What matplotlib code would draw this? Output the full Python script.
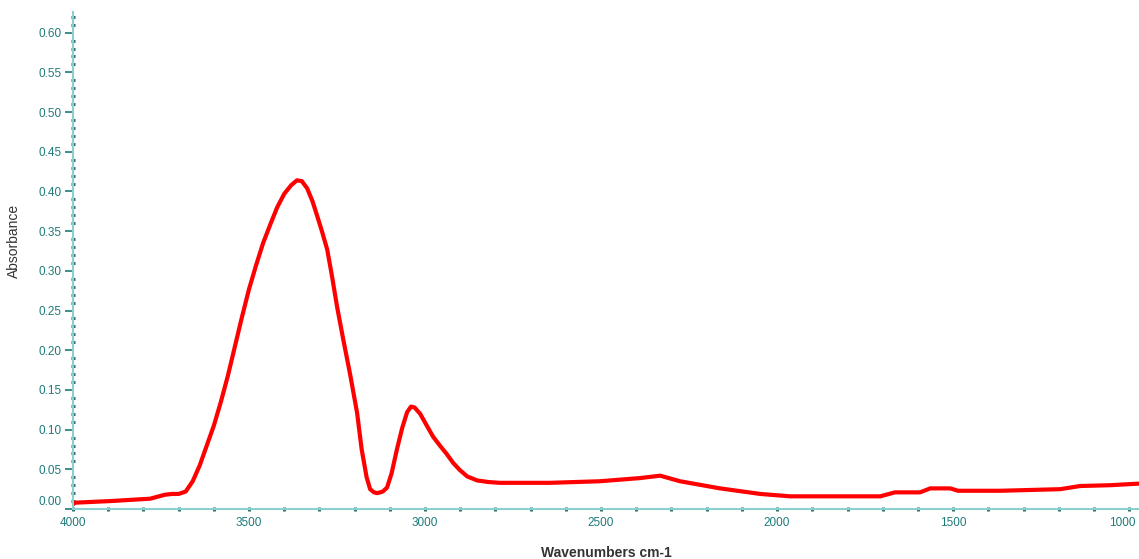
import numpy as np
import matplotlib.pyplot as plt
from matplotlib.ticker import MultipleLocator
from matplotlib.transforms import ScaledTranslation

# FTIR absorbance spectrum
wavenumber = [4000, 3994, 3895, 3781, 3739, 3719, 3700, 3680, 3660, 3640, 3620,
              3600, 3580, 3560, 3540, 3520, 3500, 3480, 3460, 3440, 3420, 3400,
              3380, 3364, 3350, 3335, 3320, 3307, 3293, 3278, 3265, 3250, 3233,
              3213, 3193, 3180, 3166, 3156, 3145, 3136, 3120, 3108, 3095, 3080,
              3065, 3051, 3040, 3030, 3014, 2995, 2977, 2958, 2938, 2920, 2901,
              2880, 2852, 2820, 2787, 2645, 2503, 2389, 2332, 2276, 2162, 2048,
              1963, 1707, 1665, 1594, 1565, 1508, 1486, 1366, 1196, 1139, 1054, 972]
absorbance = [0.006, 0.008, 0.010, 0.013, 0.018, 0.019, 0.019, 0.022, 0.035, 0.055, 0.080,
              0.105, 0.135, 0.168, 0.205, 0.242, 0.277, 0.307, 0.335, 0.358, 0.380, 0.397,
              0.408, 0.414, 0.413, 0.404, 0.388, 0.370, 0.350, 0.327, 0.295, 0.255, 0.215,
              0.170, 0.121, 0.075, 0.040, 0.025, 0.021, 0.020, 0.022, 0.027, 0.045, 0.075,
              0.102, 0.122, 0.129, 0.128, 0.120, 0.105, 0.091, 0.080, 0.069, 0.058, 0.049,
              0.041, 0.036, 0.034, 0.033, 0.033, 0.035, 0.039, 0.042, 0.035, 0.026, 0.019,
              0.016, 0.016, 0.021, 0.021, 0.026, 0.026, 0.023, 0.023, 0.025, 0.029, 0.030, 0.032]

y_ticks = [0.00, 0.05, 0.10, 0.15, 0.20, 0.25, 0.30, 0.35, 0.40, 0.45, 0.50, 0.55, 0.60]
x_ticks = [4000, 3500, 3000, 2500, 2000, 1500, 1000]

teal = '#1f7a7a'
spine_col = '#8ccfcf'

plt.rcParams['font.family'] = ['Liberation Sans Narrow', 'Liberation Sans', 'DejaVu Sans']

fig = plt.figure(figsize=(11.39, 5.59), dpi=100)
ax = fig.add_axes([0.0641, 0.0894, 0.9359, 0.8891])

ax.plot(wavenumber, absorbance, color='#ff0000', lw=3, solid_capstyle='round',
        solid_joinstyle='round')

ax.set_xlim(4000, 972)
ax.set_ylim(0, 0.626)

for s in ['top', 'right']:
    ax.spines[s].set_visible(False)
for s in ['left', 'bottom']:
    ax.spines[s].set_color(spine_col)
    ax.spines[s].set_linewidth(1.5)

ax.set_xticks(x_ticks)
ax.set_xticklabels([str(t) for t in x_ticks])
ax.xaxis.set_minor_locator(MultipleLocator(100))
ax.set_yticks(y_ticks)
ax.set_yticklabels(['%.2f' % t for t in y_ticks])
ax.yaxis.set_minor_locator(MultipleLocator(0.01))

ax.tick_params(axis='x', which='both', direction='inout', length=3, width=2.2,
               color='#2f6f6f', labelcolor=teal, labelsize=8.5, pad=4)
ax.tick_params(axis='y', which='major', direction='out', length=6, width=1.2,
               color=teal, labelcolor=teal, labelsize=8.5, pad=2)
ax.tick_params(axis='y', which='minor', direction='inout', length=3, width=2.2,
               color='#2f6f6f')

# "0.00" sits a little above the x axis in the reference
lab0 = ax.get_yticklabels()[0]
lab0.set_transform(lab0.get_transform() + ScaledTranslation(0, 6 / 72, fig.dpi_scale_trans))
# keep the last x label inside the figure
labr = ax.get_xticklabels()[-1]
labr.set_transform(labr.get_transform() + ScaledTranslation(-5 / 72, 0, fig.dpi_scale_trans))

ax.set_xlabel('Wavenumbers cm-1', fontsize=10, fontweight='bold', color='#333333',
              family=['Liberation Sans', 'DejaVu Sans'])
ax.xaxis.set_label_coords(0.5, -0.075)
ax.set_ylabel('Absorbance', fontsize=10, color='#333333',
              family=['Liberation Sans', 'DejaVu Sans'])
ax.yaxis.set_label_coords(-0.049, 0.54)

fig.savefig('out.png', dpi=100)
